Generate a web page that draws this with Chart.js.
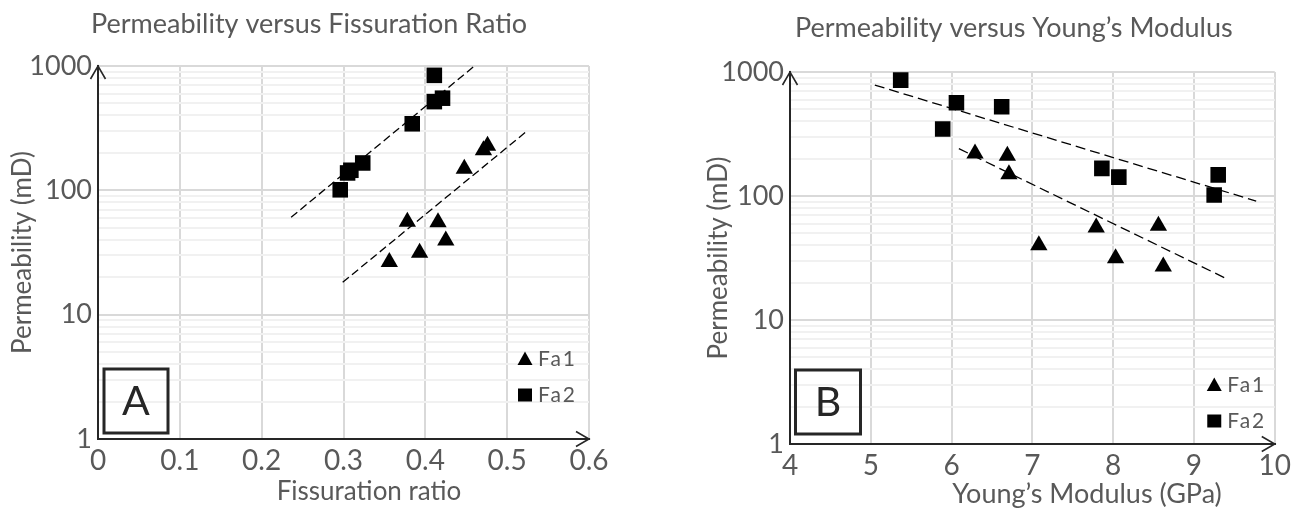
<!DOCTYPE html>
<html><head><meta charset="utf-8">
<script src="https://cdn.jsdelivr.net/npm/chart.js@4.4.1/dist/chart.umd.min.js"></script>
<style>
html,body{margin:0;padding:0;background:#fff;}
#wrap{position:relative;width:1296px;height:510px;overflow:hidden;}
.c{position:absolute;top:0;width:648px;height:510px;}
</style></head><body>
<div id="wrap">
<div class="c" style="left:0"><canvas id="chartA"></canvas></div>
<div class="c" style="left:648px"><canvas id="chartB"></canvas></div>
</div>
<script>
// ---------- data ----------
const yTickLabels = [1, 10, 100, 1000];
const yGridValues = [1,2,3,4,5,6,7,8,9,10,20,30,40,50,60,70,80,90,100,200,300,400,500,600,700,800,900,1000];

const fissTicks = [0, 0.1, 0.2, 0.3, 0.4, 0.5, 0.6];
const fissTickLabels = ['0', '0.1', '0.2', '0.3', '0.4', '0.5', '0.6'];
const youngTicks = [4, 5, 6, 7, 8, 9, 10];
const youngTickLabels = ['4', '5', '6', '7', '8', '9', '10'];

// Panel A: permeability vs fissuration ratio
const fissFa1X = [0.356, 0.393, 0.378, 0.4155, 0.425, 0.4476, 0.471, 0.476];
const fissFa1Y = [26.5, 31.5, 56, 55.5, 39.5, 149, 210, 228];
const fissFa2X = [0.296, 0.305, 0.309, 0.3235, 0.384, 0.411, 0.421, 0.411];
const fissFa2Y = [101, 138, 145, 166, 343, 517, 551, 841];
const fissTrend1X = [0.299, 0.524];
const fissTrend1Y = [18.2, 299];
const fissTrend2X = [0.236, 0.46];
const fissTrend2Y = [60.7, 1000];

// Panel B: permeability vs Young's modulus
const youngFa1X = [6.29, 6.69, 6.71, 7.08, 7.79, 8.56, 8.03, 8.62];
const youngFa1Y = [220, 211, 150, 40.1, 55.7, 57.5, 31.5, 27];
const youngFa2X = [5.37, 6.06, 5.89, 6.62, 7.86, 8.07, 9.30, 9.25];
const youngFa2Y = [860, 565, 347, 525, 167, 142, 148, 102];
const youngTrend1X = [6.09, 9.38];
const youngTrend1Y = [241, 21.9];
const youngTrend2X = [5.05, 9.77];
const youngTrend2Y = [785, 91];

// ---------- helpers ----------
const FONT = 'Lato, "Open Sans", sans-serif';
const GREY = '#595959';
const DARK = '#262626';
const pts = (xs, ys) => xs.map((x, i) => ({x, y: ys[i]}));

const decor = {
  id: 'decor',
  afterDraw(chart, args, o) {
    const {ctx, chartArea: a} = chart;
    ctx.save();
    // arrow heads
    ctx.strokeStyle = DARK; ctx.lineWidth = 1.6; ctx.lineJoin = 'miter';
    ctx.beginPath();
    ctx.moveTo(a.left - 7.5, a.top + 13); ctx.lineTo(a.left, a.top); ctx.lineTo(a.left + 7.5, a.top + 13);
    ctx.moveTo(a.right - 13, a.bottom - 7.5); ctx.lineTo(a.right, a.bottom); ctx.lineTo(a.right - 13, a.bottom + 7.5);
    ctx.stroke();
    // letter box
    ctx.lineWidth = 3;
    const bx = a.left + o.boxDx, by = a.bottom - o.boxDy - 64;
    ctx.strokeRect(bx, by, o.boxW, 64);
    ctx.fillStyle = DARK;
    ctx.font = '41px ' + FONT;
    ctx.textAlign = 'center'; ctx.textBaseline = 'middle';
    ctx.fillText(o.letter, bx + o.boxW / 2, by + 33);
    // legend
    const ds = chart.data.datasets.filter(d => d.showInLegend);
    ds.forEach((d, i) => {
      const cx = a.right - o.legDx, cy = a.bottom - o.legDy + i * 36;
      ctx.fillStyle = '#000';
      ctx.beginPath();
      if (d.pointStyle === 'triangle') {
        ctx.moveTo(cx, cy - 7.5); ctx.lineTo(cx + 7.5, cy + 6); ctx.lineTo(cx - 7.5, cy + 6); ctx.closePath();
      } else {
        ctx.rect(cx - 7, cy - 6.5, 14, 13);
      }
      ctx.fill();
      ctx.fillStyle = GREY;
      ctx.font = '21px ' + FONT;
      ctx.letterSpacing = '2px';
      ctx.textAlign = 'left'; ctx.textBaseline = 'middle';
      ctx.fillText(d.label, cx + 13, cy);
      ctx.letterSpacing = '0px';
    });
    // chart title and x-axis title
    ctx.fillStyle = GREY;
    ctx.textAlign = 'left'; ctx.textBaseline = 'alphabetic';
    ctx.font = '27px ' + FONT;
    ctx.fillText(o.title, o.titleX, o.titleY);
    ctx.textAlign = 'center'; ctx.textBaseline = 'middle';
    ctx.font = o.xTitleSize + 'px ' + FONT;
    ctx.fillText(o.xTitle, o.xTitleX, o.xTitleY);
    ctx.restore();
  }
};

function makeChart(id, c) {
  return new Chart(document.getElementById(id), {
    type: 'scatter',
    data: {
      datasets: [
        {label: 'Fa1', showInLegend: true, data: pts(c.fa1x, c.fa1y), pointStyle: 'triangle', pointRadius: 10,
         backgroundColor: '#000', borderColor: '#000', borderWidth: 0, order: 1},
        {label: 'Fa2', showInLegend: true, data: pts(c.fa2x, c.fa2y), pointStyle: 'rect', pointRadius: 11,
         backgroundColor: '#000', borderColor: '#000', borderWidth: 0, order: 1},
        {label: 'Fa1 trend', type: 'line', data: pts(c.t1x, c.t1y), borderColor: '#000', borderWidth: 1.3,
         borderDash: c.dash, pointRadius: 0, fill: false, order: 2},
        {label: 'Fa2 trend', type: 'line', data: pts(c.t2x, c.t2y), borderColor: '#000', borderWidth: 1.3,
         borderDash: c.dash, pointRadius: 0, fill: false, order: 2}
      ]
    },
    options: {
      responsive: true, maintainAspectRatio: false, animation: false,
      layout: {padding: c.padding},
      plugins: {legend: {display: false}, tooltip: {enabled: false}, decor: c.decor},
      scales: {
        x: {
          type: 'linear', min: c.xTicks[0], max: c.xTicks[c.xTicks.length - 1],
          afterBuildTicks: s => { s.ticks = c.xTicks.map(v => ({value: v})); },
          afterFit: s => { s.height = c.xH; },
          ticks: {autoSkip: false, maxRotation: 0, padding: 5, color: GREY, font: {family: FONT, size: 28},
                  callback: (v, i) => c.xLabels[i]},
          grid: {color: '#d9d9d9', lineWidth: 2, drawTicks: false},
          border: {color: DARK, width: 2}
        },
        y: {
          type: 'logarithmic', min: 1, max: 1000,
          afterBuildTicks: s => { s.ticks = yGridValues.map(v => ({value: v})); },
          afterFit: s => { s.width = c.yW; },
          ticks: {autoSkip: false, padding: 6, color: GREY, font: {family: FONT, size: 27},
                  callback: v => yTickLabels.includes(v) ? String(v) : ''},
          grid: {drawTicks: false, lineWidth: 2,
                 color: ctx => (ctx.tick && yTickLabels.includes(ctx.tick.value)) ? '#d9d9d9' : '#f1f1f1'},
          border: {color: DARK, width: 2},
          title: {display: true, text: 'Permeability (mD)', color: GREY, font: {family: FONT, size: 26},
                  padding: {top: c.yTitlePad, bottom: 0}}
        }
      }
    },
    plugins: [decor]
  });
}

makeChart('chartA', {
  fa1x: fissFa1X, fa1y: fissFa1Y, fa2x: fissFa2X, fa2y: fissFa2Y,
  t1x: fissTrend1X, t1y: fissTrend1Y, t2x: fissTrend2X, t2y: fissTrend2Y,
  dash: [8, 4], xTicks: fissTicks, xLabels: fissTickLabels,
  padding: {left: 0, top: 66, right: 59, bottom: 0}, yW: 98, xH: 71, yTitlePad: 7,
  decor: {letter: 'A', boxDx: 6, boxDy: 6, boxW: 64, legDx: 64, legDy: 80,
          title: 'Permeability versus Fissuration Ratio', titleX: 91, titleY: 33,
          xTitle: 'Fissuration ratio', xTitleSize: 26, xTitleX: 369, xTitleY: 492}
});

makeChart('chartB', {
  fa1x: youngFa1X, fa1y: youngFa1Y, fa2x: youngFa2X, fa2y: youngFa2Y,
  t1x: youngTrend1X, t1y: youngTrend1Y, t2x: youngTrend2X, t2y: youngTrend2Y,
  dash: [10, 5], xTicks: youngTicks, xLabels: youngTickLabels,
  padding: {left: 55, top: 72, right: 13, bottom: 0}, yW: 87, xH: 66, yTitlePad: 0,
  decor: {letter: 'B', boxDx: 5.5, boxDy: 10, boxW: 65, legDx: 60.5, legDy: 59,
          title: 'Permeability versus Young\u2019s Modulus', titleX: 147, titleY: 37,
          xTitle: 'Young\u2019s Modulus (GPa)', xTitleSize: 27, xTitleX: 439, xTitleY: 494}
});
</script>
</body></html>
